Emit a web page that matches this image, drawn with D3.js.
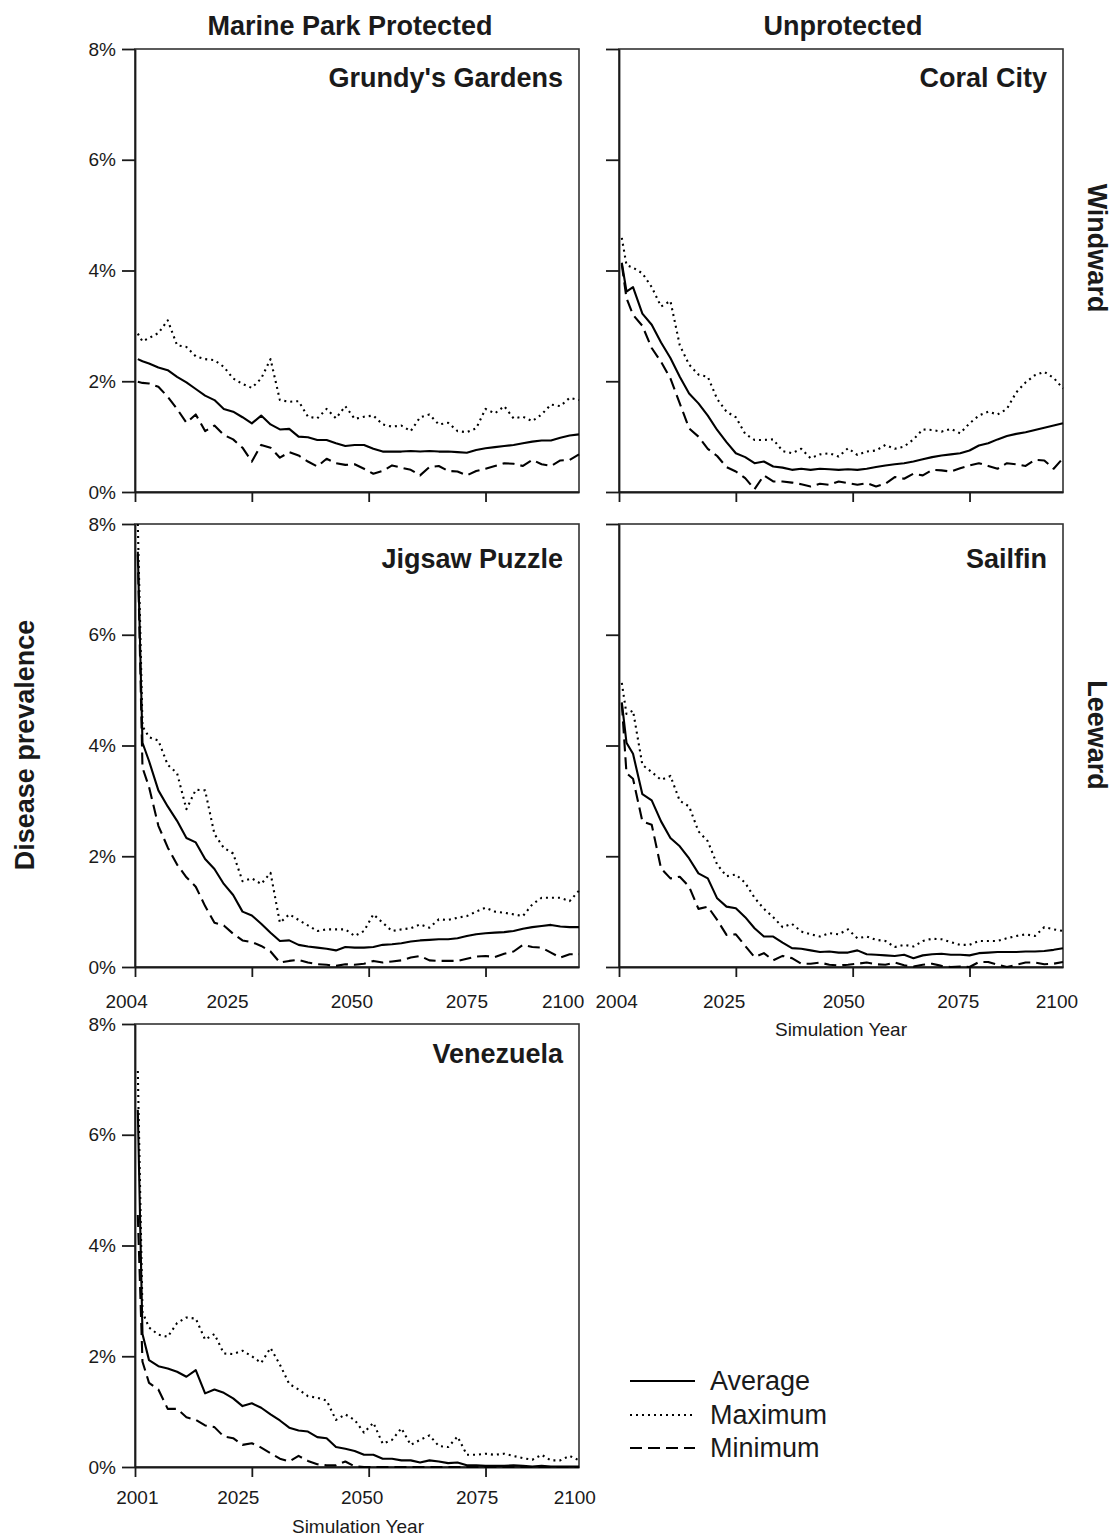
<!DOCTYPE html>
<html>
<head>
<meta charset="utf-8">
<script src="https://cdn.jsdelivr.net/npm/d3@7"></script>
<style>
  html, body { margin: 0; padding: 0; background: #fff; }
  svg { display: block; font-family: "Liberation Sans", Arial, Helvetica, sans-serif; }
</style>
</head>
<body>
<svg id="fig" width="1112" height="1538"></svg>
<script>
// Simulation time, in years since the start of each run
const simStep = [0.6, 1.6].concat(d3.range(3, 96, 2));

// Disease prevalence (%) per reef: average, maximum and minimum over runs
const grundyAvg = [2.40, 2.36,
  2.32, 2.25, 2.20, 2.08, 1.98, 1.86, 1.74, 1.66, 1.50, 1.45,
  1.35, 1.24, 1.38, 1.22, 1.13, 1.14, 1.00, 0.99, 0.94, 0.94,
  0.88, 0.83, 0.85, 0.85, 0.78, 0.73, 0.73, 0.73, 0.74, 0.73,
  0.74, 0.73, 0.73, 0.72, 0.71, 0.76, 0.79, 0.81, 0.83, 0.85,
  0.88, 0.91, 0.93, 0.93, 0.98, 1.02, 1.04];
const grundyMax = [2.86, 2.72,
  2.78, 2.87, 3.10, 2.65, 2.62, 2.45, 2.40, 2.38, 2.26, 2.05,
  1.95, 1.88, 2.05, 2.40, 1.66, 1.63, 1.64, 1.36, 1.33, 1.50,
  1.33, 1.55, 1.32, 1.36, 1.38, 1.22, 1.18, 1.20, 1.10, 1.35,
  1.40, 1.22, 1.25, 1.10, 1.08, 1.15, 1.50, 1.42, 1.55, 1.33,
  1.36, 1.28, 1.40, 1.58, 1.55, 1.70, 1.66];
const grundyMin = [1.99, 1.97,
  1.96, 1.90, 1.72, 1.50, 1.25, 1.40, 1.10, 1.20, 1.03, 0.95,
  0.80, 0.55, 0.85, 0.80, 0.62, 0.72, 0.66, 0.55, 0.46, 0.60,
  0.52, 0.49, 0.50, 0.42, 0.33, 0.38, 0.48, 0.44, 0.40, 0.30,
  0.45, 0.47, 0.38, 0.37, 0.30, 0.38, 0.42, 0.47, 0.52, 0.51,
  0.47, 0.58, 0.50, 0.47, 0.57, 0.58, 0.68];

const coralAvg = [4.14, 3.62,
  3.70, 3.22, 3.02, 2.70, 2.42, 2.08, 1.78, 1.60, 1.38, 1.12,
  0.90, 0.70, 0.63, 0.52, 0.55, 0.46, 0.44, 0.40, 0.42, 0.40,
  0.42, 0.41, 0.40, 0.41, 0.40, 0.42, 0.45, 0.48, 0.50, 0.52,
  0.55, 0.59, 0.63, 0.66, 0.68, 0.70, 0.75, 0.84, 0.88, 0.95,
  1.01, 1.05, 1.08, 1.12, 1.16, 1.20, 1.24];
const coralMax = [4.59, 4.10,
  4.05, 3.95, 3.70, 3.35, 3.45, 2.65, 2.30, 2.12, 2.08, 1.68,
  1.45, 1.35, 1.05, 0.94, 0.94, 0.95, 0.74, 0.70, 0.78, 0.61,
  0.68, 0.70, 0.64, 0.79, 0.67, 0.73, 0.75, 0.85, 0.78, 0.82,
  0.95, 1.13, 1.12, 1.09, 1.14, 1.06, 1.24, 1.38, 1.45, 1.40,
  1.50, 1.80, 1.98, 2.11, 2.17, 2.06, 1.87];
const coralMin = [4.11, 3.50,
  3.20, 3.00, 2.60, 2.35, 2.05, 1.60, 1.15, 1.00, 0.78, 0.65,
  0.45, 0.37, 0.25, 0.05, 0.30, 0.19, 0.19, 0.17, 0.14, 0.10,
  0.15, 0.13, 0.19, 0.16, 0.13, 0.16, 0.10, 0.15, 0.27, 0.24,
  0.33, 0.30, 0.40, 0.39, 0.37, 0.43, 0.48, 0.52, 0.47, 0.42,
  0.52, 0.50, 0.47, 0.58, 0.57, 0.42, 0.61];

const jigsawAvg = [7.50, 4.05,
  3.72, 3.19, 2.90, 2.64, 2.33, 2.25, 1.95, 1.77, 1.50, 1.30,
  1.00, 0.93, 0.78, 0.62, 0.47, 0.48, 0.40, 0.37, 0.35, 0.33,
  0.30, 0.36, 0.35, 0.35, 0.36, 0.40, 0.41, 0.43, 0.46, 0.48,
  0.49, 0.50, 0.50, 0.52, 0.56, 0.59, 0.61, 0.62, 0.63, 0.65,
  0.69, 0.72, 0.74, 0.76, 0.73, 0.72, 0.72];
const jigsawMax = [8.00, 4.35,
  4.15, 4.09, 3.65, 3.50, 2.85, 3.20, 3.19, 2.40, 2.15, 2.05,
  1.55, 1.60, 1.50, 1.70, 0.80, 0.95, 0.85, 0.75, 0.65, 0.68,
  0.68, 0.68, 0.56, 0.65, 0.95, 0.80, 0.65, 0.68, 0.70, 0.77,
  0.71, 0.86, 0.85, 0.89, 0.92, 1.00, 1.07, 1.00, 0.98, 0.95,
  0.92, 1.13, 1.25, 1.25, 1.25, 1.19, 1.38];
const jigsawMin = [7.45, 3.60,
  3.25, 2.55, 2.16, 1.85, 1.62, 1.45, 1.10, 0.80, 0.75, 0.60,
  0.48, 0.45, 0.38, 0.28, 0.08, 0.11, 0.13, 0.08, 0.05, 0.04,
  0.02, 0.05, 0.04, 0.06, 0.11, 0.08, 0.10, 0.12, 0.17, 0.20,
  0.12, 0.11, 0.11, 0.11, 0.15, 0.19, 0.20, 0.18, 0.24, 0.28,
  0.40, 0.36, 0.35, 0.26, 0.17, 0.23, 0.23];

const sailfinAvg = [4.78, 4.05,
  3.85, 3.12, 3.01, 2.63, 2.33, 2.18, 1.96, 1.69, 1.60, 1.24,
  1.09, 1.06, 0.90, 0.70, 0.55, 0.55, 0.44, 0.34, 0.33, 0.30,
  0.27, 0.28, 0.26, 0.26, 0.30, 0.23, 0.22, 0.21, 0.20, 0.22,
  0.16, 0.21, 0.23, 0.24, 0.22, 0.22, 0.21, 0.25, 0.26, 0.27,
  0.27, 0.27, 0.28, 0.28, 0.29, 0.31, 0.34];
const sailfinMax = [5.13, 4.57,
  4.63, 3.65, 3.52, 3.38, 3.45, 3.00, 2.90, 2.45, 2.27, 1.85,
  1.64, 1.67, 1.52, 1.25, 1.05, 0.90, 0.72, 0.78, 0.64, 0.59,
  0.55, 0.61, 0.59, 0.68, 0.52, 0.55, 0.49, 0.47, 0.36, 0.40,
  0.37, 0.47, 0.51, 0.50, 0.45, 0.40, 0.40, 0.47, 0.47, 0.47,
  0.52, 0.56, 0.59, 0.56, 0.72, 0.68, 0.65];
const sailfinMin = [4.76, 3.50,
  3.40, 2.63, 2.57, 1.78, 1.60, 1.63, 1.45, 1.05, 1.09, 0.85,
  0.58, 0.59, 0.38, 0.18, 0.25, 0.12, 0.20, 0.16, 0.06, 0.06,
  0.08, 0.04, 0.03, 0.04, 0.06, 0.08, 0.05, 0.04, 0.08, 0.03,
  0.01, 0.04, 0.06, 0.02, 0.00, 0.01, 0.00, 0.09, 0.09, 0.04,
  0.00, 0.04, 0.08, 0.08, 0.05, 0.06, 0.09];

const venAvg = [6.45, 2.40,
  1.93, 1.82, 1.78, 1.72, 1.63, 1.75, 1.33, 1.40, 1.34, 1.24,
  1.10, 1.15, 1.07, 0.95, 0.84, 0.71, 0.66, 0.64, 0.54, 0.52,
  0.36, 0.33, 0.29, 0.22, 0.22, 0.15, 0.15, 0.12, 0.12, 0.08,
  0.12, 0.10, 0.07, 0.08, 0.03, 0.03, 0.02, 0.02, 0.02, 0.03,
  0.02, 0.01, 0.02, 0.01, 0.01, 0.01, 0.01];
const venMax = [7.15, 2.80,
  2.52, 2.39, 2.35, 2.60, 2.70, 2.68, 2.30, 2.40, 2.05, 2.04,
  2.10, 2.00, 1.88, 2.15, 1.85, 1.50, 1.40, 1.28, 1.25, 1.20,
  0.85, 0.95, 0.85, 0.62, 0.80, 0.42, 0.49, 0.70, 0.40, 0.49,
  0.57, 0.38, 0.36, 0.55, 0.22, 0.22, 0.24, 0.22, 0.24, 0.20,
  0.16, 0.13, 0.22, 0.12, 0.12, 0.20, 0.12];
const venMin = [4.55, 1.90,
  1.52, 1.40, 1.05, 1.05, 0.90, 0.85, 0.75, 0.72, 0.55, 0.52,
  0.40, 0.43, 0.35, 0.25, 0.15, 0.10, 0.20, 0.11, 0.05, 0.03,
  0.03, 0.10, 0.01, 0.00, 0.00, 0.00, 0.00, 0.00, 0.00, 0.00,
  0.00, 0.00, 0.00, 0.00, 0.00, 0.00, 0.00, 0.00, 0.00, 0.00,
  0.00, 0.00, 0.00, 0.00, 0.00, 0.00, 0.00];

// Axis ticks and labels
const yTicks = [0, 2, 4, 6, 8];
const xTicks = [0, 25, 50, 75];
const yearLabels2004 = ["2004", "2025", "2050", "2075", "2100"];
const yearLabels2001 = ["2001", "2025", "2050", "2075", "2100"];
const columnHeads = ["Marine Park Protected", "Unprotected"];
const rowHeads = ["Windward", "Leeward"];
const seriesNames = ["Average", "Maximum", "Minimum"];

// ---- layout ----
const W = 1112, H = 1538;
const colLeft = [135, 619];
const rowTop = [49, 524, 1024];
const panelW = 444, panelH = 443;
const titleDrop = [38, 44, 39];
const yearDrop = [41, 41, 37];
const ink = "#1a1a1a";
const fontMain = '"Liberation Sans", Arial, Helvetica, sans-serif';

// stroke styles for the three summary lines
const lineStyle = {
  Average: { dash: null, width: 2.1 },
  Maximum: { dash: "2,4", width: 2.1 },
  Minimum: { dash: "12,6", width: 2.1 }
};

const panels = [
  { title: "Grundy's Gardens", row: 0, col: 0, avg: grundyAvg, max: grundyMax, min: grundyMin,
    yLabels: true, xLabels: null, xTitle: false },
  { title: "Coral City", row: 0, col: 1, avg: coralAvg, max: coralMax, min: coralMin,
    yLabels: false, xLabels: null, xTitle: false },
  { title: "Jigsaw Puzzle", row: 1, col: 0, avg: jigsawAvg, max: jigsawMax, min: jigsawMin,
    yLabels: true, xLabels: yearLabels2004, labelAt: [-1.8, 19.8, 46.4, 71.0, 91.6], xTitle: false },
  { title: "Sailfin", row: 1, col: 1, avg: sailfinAvg, max: sailfinMax, min: sailfinMin,
    yLabels: false, xLabels: yearLabels2004, labelAt: [-0.5, 22.5, 48.1, 72.6, 93.7], xTitle: true },
  { title: "Venezuela", row: 2, col: 0, avg: venAvg, max: venMax, min: venMin,
    yLabels: true, xLabels: yearLabels2001, labelAt: [0.5, 22.1, 48.6, 73.2, 94.1], xTitle: true }
];

const svg = d3.select("#fig").attr("viewBox", [0, 0, W, H]);
svg.append("rect").attr("width", W).attr("height", H).attr("fill", "#fff");

panels.forEach(p => {
  const x0 = colLeft[p.col], y0 = rowTop[p.row];
  const x = d3.scaleLinear().domain([0, 95]).range([x0, x0 + panelW]);
  const y = d3.scaleLinear().domain([0, 8]).range([y0 + panelH, y0]);
  const g = svg.append("g");

  // frame
  g.append("rect")
    .attr("x", x0).attr("y", y0).attr("width", panelW).attr("height", panelH)
    .attr("fill", "none").attr("stroke", "#333").attr("stroke-width", 1.6);

  // y axis
  const yAxis = d3.axisLeft(y).tickValues(yTicks).tickSize(13).tickSizeOuter(0).tickPadding(6)
    .tickFormat(d => p.yLabels ? d + "%" : "");
  const ya = g.append("g").attr("transform", `translate(${x0},0)`).call(yAxis);
  ya.select(".domain").attr("stroke", ink).attr("stroke-width", 1.8);
  ya.selectAll(".tick line").attr("stroke", ink).attr("stroke-width", 1.8);
  ya.selectAll(".tick text").attr("fill", ink).style("font-size", "19px").style("font-family", fontMain);

  // x axis (tick marks only; year labels are placed below)
  const xAxis = d3.axisBottom(x).tickValues(xTicks).tickSize(10).tickSizeOuter(0).tickFormat("");
  const xa = g.append("g").attr("transform", `translate(0,${y0 + panelH})`).call(xAxis);
  xa.select(".domain").attr("stroke", ink).attr("stroke-width", 1.8);
  xa.selectAll(".tick line").attr("stroke", ink).attr("stroke-width", 1.8);

  if (p.xLabels) {
    g.selectAll("text.yr").data(p.xLabels).join("text")
      .attr("class", "yr")
      .attr("x", (d, i) => x(p.labelAt[i]))
      .attr("y", y0 + panelH + yearDrop[p.row])
      .attr("text-anchor", "middle")
      .attr("fill", ink)
      .style("font-size", "19px")
      .text(d => d);
  }
  if (p.xTitle) {
    g.append("text")
      .attr("x", x0 + panelW / 2 + (p.col === 0 ? 1 : 0))
      .attr("y", p.row === 2 ? H - 5 : y0 + panelH + 69)
      .attr("text-anchor", "middle")
      .attr("fill", ink)
      .style("font-size", "19px")
      .text("Simulation Year");
  }

  // reef name
  g.append("text")
    .attr("x", x0 + panelW - 16)
    .attr("y", y0 + titleDrop[p.row])
    .attr("text-anchor", "end")
    .attr("fill", ink)
    .style("font-size", "27px")
    .style("font-weight", "bold")
    .text(p.title);

  // summary lines
  const line = d3.line()
    .x((d, i) => x(simStep[i]))
    .y(d => y(d));
  const series = [["Maximum", p.max], ["Minimum", p.min], ["Average", p.avg]];
  series.forEach(([name, vals]) => {
    const st = lineStyle[name];
    g.append("path")
      .datum(vals)
      .attr("d", line)
      .attr("fill", "none")
      .attr("stroke", "#000")
      .attr("stroke-width", st.width)
      .attr("stroke-linejoin", "round")
      .attr("stroke-dasharray", st.dash);
  });
});

// column headings
columnHeads.forEach((t, i) => {
  svg.append("text")
    .attr("x", [350, 843][i])
    .attr("y", 35)
    .attr("text-anchor", "middle")
    .attr("fill", ink)
    .style("font-size", "27px")
    .style("font-weight", "bold")
    .text(t);
});

// row headings on the right
rowHeads.forEach((t, i) => {
  const cy = [248, 735][i];
  svg.append("text")
    .attr("transform", `translate(1088,${cy}) rotate(90)`)
    .attr("text-anchor", "middle")
    .attr("fill", ink)
    .style("font-size", "27px")
    .style("font-weight", "bold")
    .text(t);
});

// y axis title
svg.append("text")
  .attr("transform", "translate(34,745) rotate(-90)")
  .attr("text-anchor", "middle")
  .attr("fill", ink)
  .style("font-size", "27px")
  .style("font-weight", "bold")
  .text("Disease prevalence");

// legend
const legend = svg.append("g");
const legendY = [1381, 1415, 1448];
seriesNames.forEach((name, i) => {
  const st = lineStyle[name];
  legend.append("line")
    .attr("x1", 630).attr("x2", 695)
    .attr("y1", legendY[i]).attr("y2", legendY[i])
    .attr("stroke", "#000")
    .attr("stroke-width", st.width)
    .attr("stroke-dasharray", st.dash);
  legend.append("text")
    .attr("x", 710)
    .attr("y", legendY[i] + 9)
    .attr("fill", ink)
    .style("font-size", "27px")
    .text(name);
});
</script>
</body>
</html>
